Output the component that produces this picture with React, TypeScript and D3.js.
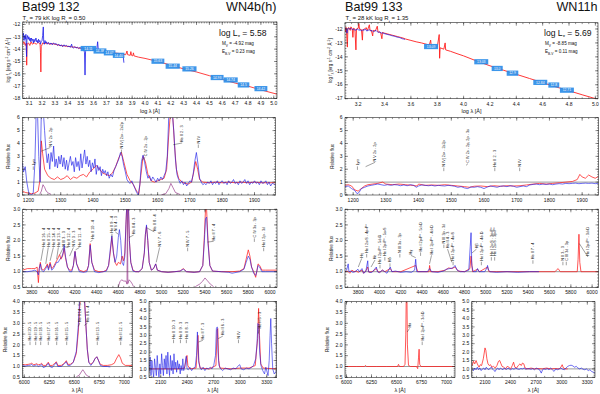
import React from "react";
import * as d3 from "d3";

type P = [number, number][];
type Lab = [number, number, string, number?, number?];
type Box = [number, number, number, string];

const FONT = "'Liberation Sans', Arial, Helvetica, sans-serif";
const RED = "#ff1f1f";
const BLUE = "#1c1ce8";
const RESID = "#8a1f7a";
const PHOT = "#2b8de8";

// ---------------- Bat99 132 -----------------
const sed132Model: P = [[3.050,-13.6],[3.060,-13.4],[3.070,-13.7],[3.078,-13.5],[3.081,-15.3],[3.084,-13.6],[3.095,-13.5],[3.105,-13.7],[3.115,-13.4],[3.125,-13.6],[3.140,-13.5],[3.155,-13.6],[3.170,-13.45],[3.185,-13.6],[3.188,-14.3],[3.191,-15.85],[3.194,-13.8],[3.205,-13.5],[3.220,-13.55],[3.240,-13.5],[3.260,-13.6],[3.280,-13.55],[3.300,-13.6],[3.340,-13.7],[3.380,-13.75],[3.420,-13.8],[3.460,-13.85],[3.500,-13.95],[3.550,-14.0],[3.600,-14.05],[3.650,-14.15],[3.700,-14.2],[3.750,-14.3],[3.800,-14.35],[3.850,-14.45],[3.860,-14.15],[3.865,-14.45],[3.885,-14.5],[3.890,-14.2],[3.895,-14.5],[3.905,-14.55],[3.910,-14.3],[3.915,-14.55],[3.950,-14.65],[4.000,-14.75],[4.100,-15.0],[4.200,-15.3],[4.300,-15.6],[4.400,-15.85],[4.500,-16.15],[4.600,-16.45],[4.700,-16.75],[4.800,-17.0],[4.900,-17.3],[5.025,-17.65]];
const sed132Obs: P = [[3.050,-13.0],[3.055,-12.7],[3.060,-13.3],[3.065,-12.9],[3.070,-13.2],[3.075,-12.8],[3.080,-14.6],[3.083,-13.1],[3.088,-12.9],[3.093,-13.2],[3.098,-13.0],[3.103,-13.3],[3.108,-13.1],[3.113,-13.4],[3.118,-13.1],[3.123,-13.3],[3.128,-13.2],[3.133,-13.5],[3.138,-13.2],[3.143,-13.4],[3.148,-13.3],[3.153,-13.1],[3.158,-13.4],[3.163,-13.3],[3.168,-13.5],[3.173,-13.2],[3.178,-13.4],[3.183,-13.3],[3.188,-13.6],[3.193,-13.4],[3.200,-13.3],[3.205,-12.9],[3.210,-12.2],[3.213,-13.4],[3.218,-13.6],[3.223,-13.3],[3.228,-13.5],[3.233,-13.4],[3.240,-13.6],[3.250,-13.45],[3.260,-13.6],[3.270,-13.5],[3.280,-13.65],[3.290,-13.5],[3.300,-13.6],[3.310,-13.55],[3.320,-13.7],[3.330,-13.6],[3.340,-13.75],[3.350,-13.65],[3.360,-13.8],[3.370,-13.65],[3.380,-13.75],[3.390,-13.7],[3.400,-13.8],[3.410,-13.75],[3.420,-13.85],[3.430,-13.6],[3.435,-13.85],[3.445,-13.9],[3.455,-13.8],[3.465,-13.9],[3.475,-13.85],[3.485,-13.95],[3.495,-13.85],[3.505,-13.95],[3.515,-13.9],[3.525,-14.0],[3.530,-14.3],[3.534,-16.1],[3.538,-14.2],[3.545,-13.95],[3.555,-14.05],[3.565,-14.0],[3.575,-14.1],[3.585,-14.05],[3.595,-14.1],[3.605,-14.0],[3.615,-14.15],[3.625,-14.05],[3.632,-13.4],[3.638,-14.15],[3.648,-14.1],[3.658,-14.2],[3.668,-14.15],[3.678,-14.25],[3.688,-14.2],[3.698,-14.3],[3.708,-14.25],[3.718,-14.35],[3.728,-14.3],[3.738,-14.35],[3.748,-14.4],[3.758,-14.35],[3.768,-14.45],[3.778,-14.4],[3.788,-14.45],[3.798,-14.4],[3.808,-14.5],[3.818,-14.45],[3.825,-14.55],[3.830,-14.5],[3.836,-15.1]];
const sed132Phot: Box[] = [[3.50,3.62,-13.95,"14.11"],[3.60,3.70,-14.15,"14.38"],[3.68,3.77,-14.3,"14.05"],[3.75,3.84,-14.5,"14.40"],[4.05,4.15,-14.98,"15.63"],[4.16,4.27,-15.38,"15.44"],[4.29,4.40,-15.6,"15.26"],[4.51,4.61,-16.3,"14.93"],[4.61,4.72,-16.5,"14.74"],[4.72,4.81,-16.9,"14.5"],[4.85,4.95,-17.2,"14.42"]];

const uv132Model: P = [[1181,0.3],[1190,0.2],[1200,0.15],[1210,0.1],[1220,0.15],[1230,0.3],[1236,1.2],[1240,4.2],[1244,3.2],[1250,2.0],[1260,1.5],[1270,1.3],[1280,1.2],[1290,1.4],[1300,1.2],[1310,1.3],[1320,1.5],[1330,1.2],[1340,1.4],[1350,1.3],[1360,1.5],[1370,1.6],[1380,1.4],[1390,1.8],[1400,2.0],[1410,2.3],[1420,2.0],[1430,1.7],[1440,1.6],[1450,1.5],[1460,1.7],[1470,2.2],[1480,2.9],[1488,3.3],[1495,2.6],[1505,1.6],[1515,1.1],[1525,0.8],[1535,0.3],[1542,0.1],[1548,1.5],[1555,3.0],[1562,2.6],[1570,1.6],[1580,1.1],[1590,1.0],[1600,1.1],[1610,1.2],[1620,1.3],[1628,2.0],[1634,4.5],[1640,6.5],[1646,6.5],[1652,4.0],[1658,2.0],[1665,1.3],[1675,1.0],[1685,0.9],[1695,0.85],[1705,1.0],[1712,1.8],[1718,2.6],[1724,2.0],[1730,1.2],[1740,1.0],[1760,0.95],[1780,1.0],[1800,0.95],[1820,1.0],[1840,0.95],[1860,1.0],[1880,0.95],[1900,1.0],[1920,0.95],[1940,0.95],[1965,0.95]];
const uv132Obs: P = [[1181,2.5],[1185,1.8],[1190,2.2],[1195,1.0],[1200,0.3],[1205,0.0],[1210,0.0],[1215,0.2],[1220,2.5],[1224,6.5],[1228,6.5],[1232,3.0],[1236,1.0],[1238,4.0],[1240,6.5],[1246,6.5],[1250,5.0],[1254,3.5],[1258,2.5],[1262,3.2],[1266,2.0],[1270,3.3],[1274,2.6],[1278,3.8],[1282,2.2],[1286,2.8],[1290,2.1],[1294,3.0],[1298,2.4],[1302,3.1],[1306,2.2],[1310,2.9],[1314,2.0],[1318,2.7],[1322,1.9],[1326,2.5],[1330,3.0],[1334,2.3],[1338,2.6],[1342,1.8],[1346,2.9],[1350,2.2],[1354,2.6],[1358,1.9],[1362,3.2],[1366,2.1],[1370,2.8],[1374,3.5],[1378,2.4],[1382,3.0],[1386,2.2],[1390,2.7],[1394,1.8],[1398,2.5],[1402,2.1],[1406,2.8],[1410,1.6],[1414,2.3],[1418,1.9],[1422,2.2],[1426,1.5],[1430,2.0],[1434,1.7],[1438,1.9],[1442,1.5],[1446,1.8],[1450,1.3],[1455,1.6],[1460,1.4],[1465,1.9],[1470,2.2],[1475,2.5],[1480,2.8],[1485,3.3],[1490,3.0],[1495,2.3],[1500,1.8],[1505,1.2],[1510,1.0],[1515,0.9],[1520,1.1],[1525,0.8],[1530,0.5],[1535,0.2],[1540,0.0],[1545,0.8],[1550,2.6],[1555,3.1],[1560,2.5],[1565,1.8],[1570,1.3],[1575,1.5],[1580,1.1],[1585,1.4],[1590,1.2],[1595,1.0],[1600,1.3],[1605,1.1],[1610,1.4],[1615,1.2],[1620,1.5],[1625,1.8],[1630,3.0],[1635,6.5],[1645,6.5],[1650,5.0],[1655,2.8],[1660,1.6],[1665,1.2],[1670,0.9],[1675,1.1],[1680,0.8],[1685,1.0],[1690,0.7],[1695,0.9],[1700,1.1],[1705,1.0],[1710,1.6],[1715,2.6],[1720,3.3],[1725,2.4],[1730,1.3],[1735,1.0],[1740,0.8],[1745,0.9],[1750,0.8],[1755,1.0],[1760,0.9],[1765,1.1],[1770,0.8],[1775,1.0],[1780,0.9],[1785,1.1],[1790,0.8],[1795,1.0],[1800,1.1],[1805,0.9],[1810,1.0],[1815,0.8],[1820,1.1],[1825,0.9],[1830,1.0],[1835,1.2],[1840,0.9],[1845,1.0],[1850,0.8],[1855,1.1],[1860,0.9],[1865,1.0],[1870,1.2],[1875,0.9],[1880,1.1],[1885,0.8],[1890,1.0],[1895,0.9],[1900,1.1],[1905,0.9],[1910,1.0],[1915,0.8],[1920,1.1],[1925,0.9],[1930,0.95],[1935,1.1],[1940,0.8],[1945,1.0],[1950,0.7],[1955,0.9],[1965,0.8]];
const uv132ResidA: P = [[1235,0.05],[1240,0.3],[1245,0.8],[1250,0.6],[1255,0.3],[1262,0.15],[1270,0.05]];
const uv132ResidB: P = [[1612,0.02],[1625,0.1],[1635,0.5],[1641,0.9],[1647,0.6],[1655,0.2],[1670,0.03]];
const uv132Labels: Lab[] = [[1215,2.3,"Lyα"],[1268,3.75,"N V 2s - 2p",1240,3.4],[1488,3.6,"N IV] 2s² - 2s2p"],[1562,3.0,"C IV 2s - 2p",1552,2.7],[1676,4.1,"He II 2 - 3",1648,3.9],[1726,4.0,"N IV"]];

const opt132Model: P = [[3717,1.05],[3760,1.1],[3800,1.1],[3830,1.1],[3850,1.15],[3862,0.65],[3870,1.1],[3880,1.3],[3890,1.1],[3910,1.05],[3930,1.15],[3945,1.25],[3955,1.1],[3970,1.3],[3985,1.1],[4000,1.15],[4015,1.25],[4030,1.35],[4045,1.45],[4058,1.55],[4070,1.4],[4085,1.5],[4100,1.75],[4112,1.45],[4130,1.15],[4150,1.05],[4170,1.05],[4185,1.2],[4200,1.65],[4215,1.25],[4240,1.05],[4280,1.0],[4310,1.05],[4325,1.2],[4340,1.9],[4355,1.3],[4380,1.05],[4420,1.0],[4460,1.0],[4490,1.05],[4510,1.2],[4525,1.6],[4540,2.1],[4555,1.6],[4570,1.3],[4585,1.2],[4600,1.3],[4620,1.25],[4635,1.5],[4648,1.35],[4660,1.6],[4670,2.5],[4680,3.3],[4692,3.3],[4702,2.0],[4715,1.3],[4735,1.05],[4760,1.0],[4790,1.0],[4820,1.1],[4840,1.6],[4850,2.2],[4860,2.45],[4872,2.0],[4885,1.3],[4905,1.05],[4925,1.1],[4945,1.25],[4960,1.05],[5000,1.0],[5060,0.98],[5120,1.0],[5170,1.02],[5200,1.1],[5230,1.0],[5300,0.98],[5350,1.0],[5380,1.2],[5395,2.2],[5405,3.0],[5415,3.0],[5428,2.0],[5445,1.2],[5470,1.02],[5550,1.0],[5650,1.0],[5720,1.02],[5760,1.1],[5780,1.4],[5800,1.7],[5815,1.5],[5830,1.15],[5850,1.0],[5868,0.82],[5878,1.0],[5890,1.25],[5905,1.2],[5925,1.05],[5960,1.05],[6000,1.05],[6065,1.05]];
const opt132Obs: P = [[3717,1.0],[3760,1.0],[3800,1.02],[3830,1.05],[3850,1.0],[3862,0.9],[3870,1.1],[3880,1.25],[3890,1.05],[3910,1.0],[3930,1.1],[3945,1.2],[3955,1.05],[3970,1.25],[3985,1.05],[4000,1.1],[4015,1.2],[4030,1.3],[4045,1.3],[4060,1.4],[4075,1.45],[4090,1.6],[4100,1.85],[4112,1.5],[4130,1.15],[4150,1.0],[4170,1.0],[4185,1.2],[4200,1.65],[4215,1.25],[4240,1.0],[4280,0.98],[4310,1.0],[4325,1.2],[4340,1.85],[4355,1.3],[4380,1.0],[4420,0.97],[4460,1.0],[4490,1.02],[4510,1.2],[4525,1.7],[4540,2.15],[4555,1.6],[4570,1.3],[4585,1.5],[4600,2.1],[4610,2.35],[4622,2.0],[4635,1.3],[4648,1.2],[4660,1.5],[4670,2.5],[4680,3.3],[4692,3.3],[4702,2.0],[4715,1.3],[4735,1.02],[4760,1.0],[4790,1.0],[4820,1.1],[4840,1.6],[4850,2.2],[4860,2.5],[4872,2.0],[4885,1.3],[4905,1.05],[4925,1.1],[4945,1.25],[4960,1.05],[5000,1.0],[5060,0.98],[5120,1.0],[5170,1.02],[5200,1.08],[5230,1.0],[5300,0.98],[5350,1.0],[5380,1.2],[5395,2.0],[5405,2.7],[5415,2.75],[5428,1.9],[5445,1.2],[5470,1.02],[5550,1.0],[5620,0.98],[5650,0.95],[5720,1.0],[5760,1.08],[5780,1.3],[5800,1.5],[5815,1.4],[5830,1.15],[5850,0.95],[5868,0.88],[5878,1.0],[5890,1.2],[5905,1.15],[5925,1.0],[5960,1.0],[6000,1.0],[6065,1.0]];
const opt132ResidA: P = [[4600,0.52],[4615,0.68],[4630,0.74],[4650,0.7],[4670,0.7],[4680,0.6],[4684,3.2],[4688,0.62],[4700,0.74],[4715,0.68],[4730,0.6],[4740,0.52]];
const opt132ResidB: P = [[5310,0.52],[5350,0.6],[5380,0.7],[5400,0.8],[5420,0.72],[5450,0.6],[5480,0.52]];
const opt132Labels: Lab[] = [[3907,1.8,"He II 16 - 4",3885,1.35],[3953,1.8,"He II 15 - 4",3930,1.25],[4000,1.8,"He II 14 - 4",3970,1.35],[4046,1.8,"He II 13 - 4",4030,1.4],[4092,1.8,"N III 3 - 3",4060,1.55],[4139,1.8,"He II 12 - 4",4102,1.8],[4185,1.8,"N IV 3 - 3",4150,1.5],[4240,1.8,"He II 11 - 4",4205,1.7],[4363,2.05,"He II 10 - 4",4342,1.95],[4541,2.25,"He II 9 - 4"],[4572,2.3,"N V 4 - 3",4600,2.2],[4741,2.2,"He II 4 - 3",4700,2.1],[4932,2.3,"He II 8 - 4",4866,2.4],[4981,1.8,"N V 7 - 6",4950,1.3],[5240,1.8,"N IV 7 - 5"],[5480,2.0,"He II 7 - 4",5425,1.95],[5856,2.1,"C IV 3s - 3p"],[5942,1.8,"He I 2p - 3d"]];

const ha132Model: P = [[5980,1.1],[6010,1.08],[6040,1.1],[6060,1.12],[6074,1.16],[6090,1.08],[6110,1.1],[6120,1.13],[6140,1.08],[6160,1.1],[6172,1.15],[6190,1.05],[6215,1.05],[6240,1.2],[6255,1.05],[6280,1.05],[6305,1.15],[6320,1.22],[6335,1.05],[6370,1.05],[6400,1.15],[6420,1.27],[6435,1.1],[6460,1.1],[6490,1.2],[6520,1.6],[6540,2.6],[6555,3.9],[6575,4.3],[6600,4.3],[6615,3.0],[6630,1.8],[6645,1.2],[6665,1.1],[6690,1.2],[6705,1.35],[6725,1.45],[6740,1.3],[6760,1.1],[6790,1.05],[6830,1.05],[6870,1.08],[6900,1.15],[6920,1.35],[6945,1.55],[6962,1.4],[6980,1.15],[7010,1.05],[7080,1.05]];
const ha132Obs: P = [[5980,1.05],[6010,1.02],[6040,1.05],[6060,1.06],[6074,1.1],[6090,1.02],[6110,1.05],[6120,1.08],[6140,1.0],[6160,1.05],[6172,1.1],[6190,0.95],[6215,1.0],[6240,1.15],[6255,1.0],[6280,0.95],[6305,1.1],[6320,1.18],[6335,1.0],[6370,1.0],[6400,1.12],[6420,1.22],[6435,1.05],[6460,1.05],[6490,1.2],[6520,1.7],[6540,2.9],[6555,4.3],[6600,4.3],[6615,3.0],[6630,1.8],[6645,1.2],[6665,1.05],[6690,1.2],[6705,1.35],[6725,1.45],[6740,1.3],[6760,1.05],[6790,1.0],[6830,1.0],[6860,0.98]];
const ha132Resid: P = [[6520,0.52],[6550,0.6],[6570,0.75],[6585,0.85],[6600,0.75],[6620,0.6],[6650,0.52]];
const ha132Labels: Lab[] = [[6057,2.2,"He II 20 - 5"],[6114,2.2,"He II 19 - 5"],[6164,2.2,"He II 18 - 5"],[6240,2.2,"He II 17 - 5"],[6324,2.2,"He II 16 - 5"],[6424,2.2,"He II 15 - 5"],[6555,3.05,"He II 14 - 5",6540,2.85],[6632,3.05,"He II 6 - 4",6600,2.9],[6730,2.2,"He II 13 - 5"],[6964,2.2,"He II 12 - 5"]];

const uv2132Model: P = [[1967,1.0],[2100,1.0],[2200,1.0],[2300,1.0],[2370,1.05],[2388,1.6],[2397,1.8],[2407,1.2],[2430,1.0],[2500,1.05],[2512,2.0],[2521,3.0],[2531,1.5],[2545,1.05],[2650,1.0],[2725,1.2],[2738,3.3],[2746,3.4],[2756,1.5],[2770,1.05],[2900,1.0],[3000,1.05],[3100,1.05],[3170,1.2],[3197,2.8],[3208,4.6],[3218,3.0],[3232,1.3],[3260,1.05],[3413,1.0]];
const uv2132Obs: P = [[1967,0.8],[1980,1.7],[1990,0.6],[2000,1.5],[2010,0.9],[2020,0.5],[2030,1.6],[2040,1.1],[2050,0.6],[2060,1.8],[2070,1.0],[2080,0.5],[2090,1.3],[2100,0.7],[2110,1.9],[2120,1.2],[2130,0.6],[2140,1.6],[2150,1.0],[2160,1.8],[2170,0.7],[2180,2.0],[2190,1.1],[2200,0.6],[2210,1.8],[2220,0.9],[2230,1.5],[2240,0.7],[2250,1.9],[2260,1.0],[2270,1.4],[2280,0.8],[2290,1.5],[2300,1.0],[2310,1.3],[2320,0.7],[2330,1.2],[2340,0.9],[2350,1.6],[2360,0.9],[2370,1.1],[2388,1.75],[2398,1.0],[2412,0.95],[2430,1.1],[2450,0.9],[2470,1.05],[2490,1.1],[2505,1.8],[2515,3.2],[2522,2.5],[2530,1.4],[2545,1.1],[2560,0.95],[2580,1.1],[2600,0.9],[2620,1.05],[2640,1.0],[2660,1.1],[2680,1.0],[2700,1.2],[2720,1.8],[2730,3.4],[2740,3.5],[2748,2.0],[2760,1.2],[2780,1.0],[2800,0.9],[2830,1.05],[2860,1.0],[2890,0.95],[2920,1.05],[2950,1.0],[2980,1.2],[2995,1.25],[3010,1.0],[3040,0.95],[3070,1.05],[3100,1.0],[3130,1.1],[3150,1.2],[3175,1.6],[3190,2.5],[3200,3.7],[3210,3.6],[3220,2.0],[3235,1.2],[3255,0.9],[3275,0.7],[3290,1.1],[3305,0.8],[3315,0.6],[3328,1.5],[3338,3.0],[3346,4.0],[3355,2.5],[3368,1.0],[3385,0.7],[3413,0.9]];
const uv2132Labels: Lab[] = [[2245,2.8,"He II 10 - 3"],[2323,2.8,"He II 9 - 3"],[2390,2.8,"He II 8 - 3"],[2577,2.75,"He II 7 - 3",2528,2.6],[2803,3.0,"He II 6 - 3",2750,2.8],[2980,2.8,"N IV"],[3215,3.4,"He II 5 - 3",3205,3.1]];

// ---------------- Bat99 133 -----------------
const sed133Model: P = [[3.100,-11.85],[3.105,-12.2],[3.110,-11.9],[3.118,-13.3],[3.122,-11.95],[3.130,-11.9],[3.140,-12.1],[3.145,-11.85],[3.155,-12.0],[3.160,-12.6],[3.164,-11.95],[3.175,-12.0],[3.183,-13.5],[3.187,-12.0],[3.200,-11.95],[3.205,-11.6],[3.210,-12.0],[3.225,-12.05],[3.232,-12.8],[3.236,-12.05],[3.250,-12.0],[3.260,-11.9],[3.270,-12.1],[3.285,-11.7],[3.290,-12.1],[3.300,-12.1],[3.310,-12.5],[3.314,-12.1],[3.330,-12.15],[3.345,-11.8],[3.350,-12.2],[3.370,-12.25],[3.380,-12.7],[3.384,-12.25],[3.400,-12.3],[3.420,-12.35],[3.440,-12.4],[3.460,-12.45],[3.480,-12.5],[3.500,-12.55],[3.520,-12.6],[3.540,-12.65],[3.560,-12.72],[3.600,-12.82],[3.640,-12.92],[3.680,-13.0],[3.700,-13.05],[3.740,-13.15],[3.750,-12.8],[3.754,-13.17],[3.790,-13.28],[3.800,-13.3],[3.815,-12.4],[3.818,-14.1],[3.822,-13.35],[3.850,-13.45],[3.860,-13.0],[3.864,-13.5],[3.900,-13.6],[3.950,-13.77],[4.000,-13.93],[4.100,-14.3],[4.200,-14.64],[4.300,-14.95],[4.400,-15.25],[4.500,-15.55],[4.600,-15.85],[4.700,-16.15],[4.800,-16.43],[4.900,-16.72],[5.020,-17.05]];
const sed133Obs: P = [[3.100,-11.9],[3.105,-11.95],[3.110,-12.0],[3.115,-12.3],[3.120,-12.05],[3.125,-11.95],[3.135,-12.0],[3.145,-11.95],[3.155,-12.05],[3.165,-12.0],[3.175,-12.1],[3.185,-12.05],[3.195,-12.0],[3.205,-12.1],[3.215,-12.05],[3.225,-12.15],[3.235,-12.05],[3.245,-12.1],[3.255,-12.0],[3.265,-12.15],[3.275,-12.1],[3.285,-12.05],[3.295,-12.15],[3.305,-12.1],[3.315,-12.2],[3.325,-12.15],[3.335,-12.1],[3.345,-12.2],[3.355,-12.25],[3.365,-12.2],[3.375,-12.3],[3.385,-12.28],[3.395,-12.32],[3.405,-12.35],[3.415,-12.38],[3.425,-12.4],[3.435,-12.42],[3.445,-12.45],[3.455,-12.48],[3.465,-12.5],[3.475,-12.52],[3.485,-12.55],[3.495,-12.58],[3.505,-12.6],[3.515,-12.62],[3.525,-12.66],[3.535,-12.7],[3.545,-12.72],[3.555,-12.75]];
const sed133Phot: Box[] = [[3.70,3.806,-13.26,"13.09"],[4.081,4.187,-14.35,"13.03"],[4.213,4.297,-14.83,"13.0"],[4.327,4.415,-15.17,"12.9"],[4.529,4.635,-15.83,"12.84"],[4.643,4.726,-16.02,"12.8"],[4.731,4.837,-16.39,"12.71"]];

const uv133Model: P = [[1175,0.75],[1185,0.8],[1195,0.7],[1205,0.4],[1215,0.3],[1225,0.5],[1235,0.7],[1245,0.8],[1260,0.85],[1275,0.9],[1290,1.0],[1300,0.85],[1320,0.8],[1340,0.85],[1360,0.8],[1380,0.75],[1395,0.7],[1400,0.85],[1420,0.75],[1440,0.78],[1460,0.75],[1480,0.8],[1500,0.75],[1520,0.7],[1540,0.65],[1555,0.6],[1570,0.68],[1590,0.7],[1610,0.65],[1630,0.72],[1650,0.68],[1670,0.72],[1690,0.7],[1710,0.72],[1730,0.78],[1750,0.85],[1770,0.9],[1790,0.85],[1810,0.9],[1830,0.95],[1850,1.0],[1870,1.05],[1885,1.2],[1893,1.6],[1900,1.4],[1910,1.3],[1920,1.55],[1930,1.4],[1940,1.3],[1950,1.45]];
const uv133Obs: P = [[1175,0.65],[1185,0.7],[1195,0.5],[1205,0.35],[1212,0.1],[1218,0.2],[1225,0.5],[1235,0.6],[1245,0.7],[1255,0.75],[1265,0.8],[1275,0.85],[1285,0.8],[1295,0.75],[1305,0.8],[1315,0.75],[1325,0.8],[1335,0.78],[1345,0.72],[1355,0.78],[1365,0.72],[1375,0.8],[1385,0.75],[1393,0.6],[1400,0.7],[1410,0.78],[1420,0.75],[1430,0.72],[1440,0.75],[1450,0.7],[1460,0.75],[1470,0.72],[1480,0.7],[1490,0.75],[1500,0.72],[1510,0.68],[1520,0.6],[1530,0.65],[1540,0.55],[1550,0.5],[1560,0.62],[1570,0.6],[1580,0.65],[1590,0.6],[1600,0.5],[1610,0.62],[1620,0.7],[1630,0.65],[1640,0.6],[1650,0.68],[1660,0.7],[1670,0.65],[1680,0.72],[1690,0.68],[1700,0.6],[1710,0.65],[1720,0.7],[1730,0.65],[1740,0.78],[1750,0.82],[1760,0.85],[1770,0.8],[1780,0.85],[1790,0.82],[1800,0.85],[1810,0.8],[1820,0.85],[1830,0.88],[1840,0.85],[1850,0.9],[1860,0.88],[1870,0.9],[1880,0.92],[1890,0.88],[1900,0.9],[1910,0.92],[1920,0.9],[1930,0.92],[1940,0.88],[1950,0.9]];
const uv133Labels: Lab[] = [[1213,2.3,"Lyα"],[1267,2.6,"N V 2s - 2p",1238,2.2],[1477,2.2,"N IV] 2s² - 2s2p"],[1551,2.5,"C IV 2s - 2p, 2p - 3s",1545,2.3],[1633,2.2,"He II 2 - 3"],[1709,2.2,"N IV"]];

const opt133Model: P = [[3675,1.0],[3700,1.02],[3720,0.95],[3740,1.05],[3760,1.0],[3780,1.02],[3800,0.98],[3835,1.05],[3850,0.95],[3870,1.02],[3889,1.15],[3900,0.98],[3930,1.0],[3970,1.1],[3990,0.98],[4010,1.0],[4026,1.05],[4050,1.0],[4101,1.1],[4120,1.0],[4200,1.0],[4340,1.2],[4360,1.0],[4400,1.0],[4465,1.0],[4471,1.2],[4480,1.0],[4550,1.0],[4620,1.05],[4650,1.12],[4680,1.1],[4710,1.15],[4740,1.02],[4800,1.0],[4850,1.1],[4861,1.5],[4875,1.0],[4922,1.08],[4940,1.0],[5016,1.15],[5030,1.0],[5100,1.0],[5411,1.0],[5650,1.0],[5680,1.1],[5700,1.0],[5860,1.0],[5868,1.4],[5876,2.2],[5884,1.3],[5895,1.0],[6060,1.0]];
const opt133Obs: P = [[3675,1.0],[3690,1.05],[3705,1.25],[3712,1.0],[3730,1.02],[3750,0.98],[3770,1.0],[3797,1.08],[3810,1.0],[3835,1.1],[3850,0.95],[3870,1.0],[3889,1.35],[3895,1.0],[3920,0.97],[3935,1.0],[3970,1.15],[3980,1.0],[4000,0.97],[4026,1.05],[4050,1.0],[4070,0.95],[4101,1.15],[4115,1.0],[4150,1.02],[4200,0.98],[4250,1.0],[4300,0.98],[4330,1.05],[4340,1.4],[4350,1.0],[4400,1.0],[4450,1.0],[4471,1.1],[4490,1.0],[4550,0.98],[4600,1.02],[4630,1.08],[4660,1.1],[4690,1.12],[4710,1.2],[4730,1.05],[4760,1.0],[4800,1.0],[4840,1.05],[4853,1.8],[4861,2.25],[4868,1.2],[4880,1.0],[4910,1.0],[4922,1.1],[4935,1.0],[4990,1.0],[5010,1.12],[5016,1.2],[5025,1.05],[5040,1.0],[5100,0.98],[5200,1.0],[5300,0.98],[5411,1.0],[5500,1.0]];
const opt133Labels: Lab[] = [[3832,1.45,"Hη",3800,1.15],[3879,1.6,"He I 2s³S - 4p³P°"],[3957,1.4,"Hε",3920,1.15],[4004,1.25,"He I 2p³P° - 5d³D"],[4050,1.5,"He I 2p³P° - 5s³S"],[4098,1.3,"Hδ"],[4191,1.6,"N III 3s - 3p"],[4295,1.55,"Hγ",4340,1.45],[4386,1.65,"He I 2p¹P° - 5d¹D"],[4489,1.55,"He I 2p³P° - 4d³D",4470,1.25],[4605,1.9,"N III 3p - 3d"],[4640,1.75,"He II 4 - 3",4680,1.3],[4692,1.35,"He I 2p³P° - 4s³S"],[4912,1.75,"Hβ",4870,1.6],[4958,1.35,"He I 2p¹P° - 4d¹D"],[5052,1.5,"He I 2s³S - 3p³P°"],[5083,1.5,"He I 2s¹S - 3p¹P°"],[5443,1.4,"He II 7 - 4"],[5725,1.35,"N II 3 - 3"],[5757,1.35,"C III 3d - 3p"],[5960,1.5,"He I 2p³P° - 3d³D",5880,1.9]];

const ha133Model: P = [[5985,1.0],[6100,1.0],[6180,1.0],[6190,1.05],[6200,1.0],[6300,1.0],[6400,1.0],[6510,1.0],[6520,1.1],[6530,1.0],[6570,1.0],[6585,1.1],[6593,2.5],[6598,4.5],[6604,4.5],[6609,2.0],[6620,1.05],[6640,1.0],[6700,1.0],[6712,0.9],[6720,1.4],[6726,1.8],[6732,1.1],[6745,1.0],[7085,1.0]];
const ha133Labels: Lab[] = [[6630,2.8,"Hα",6608,2.6],[6757,2.2,"He I 2p¹P° - 3d¹D"]];

const uv2133Model: P = [[1950,1.2],[1965,1.45],[1980,1.3],[1995,1.5],[2010,1.3],[2030,1.1],[2045,1.25],[2060,1.2],[2080,1.6],[2100,2.25],[2110,2.1],[2122,1.6],[2135,1.3],[2150,1.2],[2165,1.25],[2180,1.1],[2200,1.15],[2220,1.05],[2240,1.2],[2258,1.45],[2272,1.5],[2288,1.3],[2300,1.15],[2320,1.1],[2340,1.0],[2360,1.15],[2380,1.1],[2400,1.0],[2420,1.2],[2435,1.4],[2450,1.1],[2470,1.05],[2490,1.2],[2510,1.3],[2525,1.2],[2540,1.35],[2555,1.3],[2570,1.05],[2600,1.0],[2640,1.05],[2680,1.0],[2720,1.02],[2770,1.0],[2820,1.05],[2870,1.0],[2920,1.02],[2970,1.0],[2990,1.1],[3005,1.25],[3020,1.05],[3045,1.0],[3070,1.0]];
const uv2133Obs: P = [[1950,1.0],[1965,0.9],[1980,1.05],[1995,0.95],[2010,1.1],[2025,0.95],[2040,1.05],[2055,0.9],[2070,1.0],[2085,1.05],[2100,0.95],[2115,1.1],[2130,1.0],[2145,0.95],[2160,1.05],[2175,1.1],[2190,0.98],[2205,0.9],[2220,0.85],[2235,1.0],[2250,1.05],[2265,0.95],[2280,1.05],[2295,1.0],[2310,0.95],[2325,1.05],[2340,1.0],[2355,0.97],[2370,1.05],[2385,1.0],[2400,0.95],[2420,1.02],[2440,0.98],[2460,1.05],[2480,1.0],[2500,0.97],[2520,1.02],[2540,1.0],[2560,1.05],[2580,0.97],[2600,1.02],[2620,1.0],[2640,0.98],[2660,1.02],[2680,0.95],[2700,1.05],[2720,1.0],[2740,0.95],[2760,0.75],[2775,0.95],[2790,1.0],[2810,0.97],[2830,1.02],[2850,0.95],[2870,1.05],[2890,0.95],[2910,0.85],[2930,1.0],[2950,0.95],[2970,1.0],[2990,1.05],[3010,0.98],[3030,0.95],[3050,1.05],[3070,1.15],[3090,1.2],[3110,1.22],[3130,1.18],[3150,1.1],[3170,1.15],[3190,1.05],[3210,1.0],[3230,1.05],[3250,0.98],[3270,0.95],[3290,1.0],[3310,0.9],[3330,0.95],[3350,0.85],[3370,0.8],[3390,0.75]];

// ticks
const sed132XTicks = [3.1,3.2,3.3,3.4,3.5,3.6,3.7,3.8,3.9,4.0,4.1,4.2,4.3,4.4,4.5,4.6,4.7,4.8,4.9,5.0];
const sed132YTicks = [-12,-13,-14,-15,-16,-17,-18];
const sed133XTicks = [3.2,3.4,3.6,3.8,4.0,4.2,4.4,4.6,4.8,5.0];
const sed133YTicks = [-12,-13,-14,-15,-16,-17];
const uvXTicks = [1200,1300,1400,1500,1600,1700,1800,1900];
const uvYTicks = [0,1,2,3,4,5,6];
const optXTicks = [3800,4000,4200,4400,4600,4800,5000,5200,5400,5600,5800,6000];
const optYTicks = [0.5,1.0,1.5,2.0,2.5,3.0];
const haXTicks = [6000,6250,6500,6750,7000];
const haYTicks = [0.5,1.0,1.5,2.0,2.5,3.0,3.5,4.0];
const uv2XTicks = [2100,2400,2700,3000,3300];
const uv2YTicks = [0.5,1.0,1.5,2.0,2.5,3.0,3.5,4.0,4.5,5.0];

interface Series { data: P; color: string; w?: number; op?: number }
interface PanelProps {
  id: string; f: [number, number, number, number];
  xd: [number, number]; yd: [number, number];
  xT: number[]; xm: number; yT: number[]; ym: number;
  xF: (v: number) => string; yF: (v: number) => string;
  series: Series[]; boxes?: Box[]; labels?: Lab[]; hline?: boolean;
  xLabel?: React.ReactNode; xLabelY?: number; yLabel?: React.ReactNode; yLabelX?: number;
  xTickDy?: number;
}

function minors(d: [number, number], step: number) {
  const out: number[] = [];
  const s = Math.ceil(d[0] / step - 1e-9);
  for (let i = s; i * step <= d[1] + 1e-9; i++) out.push(i * step);
  return out;
}

function Panel(p: PanelProps) {
  const [x0, x1, y0, y1] = p.f;
  const sx = d3.scaleLinear().domain(p.xd).range([x0, x1]);
  const sy = d3.scaleLinear().domain(p.yd).range([y1, y0]);
  const line = d3.line<[number, number]>().x(d => sx(d[0])).y(d => sy(d[1]));
  const xMin = minors(p.xd, p.xm);
  const yMin = minors(p.yd, p.ym);
  const tk = 0.5;
  const xTickDy = p.xTickDy ?? 6.8;
  return (
    <g>
      <defs>
        <clipPath id={p.id}><rect x={x0} y={y0} width={x1 - x0} height={y1 - y0} /></clipPath>
      </defs>
      <g clipPath={`url(#${p.id})`}>
        {p.hline && <line x1={x0} x2={x1} y1={sy(1)} y2={sy(1)} stroke="#555" strokeWidth={0.6} />}
        {p.series.map((s, i) => (
          <path key={i} d={line(s.data) || ""} fill="none" stroke={s.color} strokeWidth={s.w ?? 0.75} strokeOpacity={s.op ?? 1} strokeLinejoin="round" />
        ))}
        {(p.boxes || []).map((b, i) => {
          const bx = sx(b[0]), bw = sx(b[1]) - sx(b[0]), cy = sy(b[2]);
          return (
            <g key={i}>
              <rect x={bx} y={cy - 2.6} width={bw} height={5.2} fill={PHOT} fillOpacity={0.92} />
              <text x={bx + bw / 2} y={cy + 1.2} fontSize={3.4} fill="#fff" textAnchor="middle" fontFamily={FONT}>{b[3]}</text>
            </g>
          );
        })}
      </g>
      {(p.labels || []).map((l, i) => {
        const X = sx(l[0]), Y = sy(l[1]);
        return (
          <g key={i}>
            {l[3] !== undefined
              ? <path d={`M${sx(l[3] as number)},${sy(l[4] as number)} L${X},${Y + 0.8}`} stroke="#111" strokeWidth={0.4} fill="none" />
              : <line x1={X} x2={X} y1={Y + 1} y2={Y + 4.5} stroke="#111" strokeWidth={0.4} />}
            <text transform={`translate(${X + 1.3},${Y}) rotate(-90)`} fontSize={3.8} fontFamily={FONT} fill="#111">{l[2]}</text>
          </g>
        );
      })}
      <rect x={x0} y={y0} width={x1 - x0} height={y1 - y0} fill="none" stroke="#222" strokeWidth={0.6} />
      {xMin.map((v, i) => (
        <g key={"xm" + i}>
          <line x1={sx(v)} x2={sx(v)} y1={y1} y2={y1 - 1.4} stroke="#222" strokeWidth={tk} />
          <line x1={sx(v)} x2={sx(v)} y1={y0} y2={y0 + 1.4} stroke="#222" strokeWidth={tk} />
        </g>
      ))}
      {p.xT.map((v, i) => (
        <g key={"xt" + i}>
          <line x1={sx(v)} x2={sx(v)} y1={y1} y2={y1 - 3} stroke="#222" strokeWidth={tk} />
          <line x1={sx(v)} x2={sx(v)} y1={y0} y2={y0 + 3} stroke="#222" strokeWidth={tk} />
          <text x={sx(v)} y={y1 + xTickDy} fontSize={5} textAnchor="middle" fontFamily={FONT} fill="#111">{p.xF(v)}</text>
        </g>
      ))}
      {yMin.map((v, i) => (
        <g key={"ym" + i}>
          <line x1={x0} x2={x0 + 1.4} y1={sy(v)} y2={sy(v)} stroke="#222" strokeWidth={tk} />
          <line x1={x1} x2={x1 - 1.4} y1={sy(v)} y2={sy(v)} stroke="#222" strokeWidth={tk} />
        </g>
      ))}
      {p.yT.map((v, i) => (
        <g key={"yt" + i}>
          <line x1={x0} x2={x0 + 3} y1={sy(v)} y2={sy(v)} stroke="#222" strokeWidth={tk} />
          <line x1={x1} x2={x1 - 3} y1={sy(v)} y2={sy(v)} stroke="#222" strokeWidth={tk} />
          <text x={x0 - 2.5} y={sy(v) + 1.7} fontSize={5} textAnchor="end" fontFamily={FONT} fill="#111">{p.yF(v)}</text>
        </g>
      ))}
      {p.xLabel && <text x={(x0 + x1) / 2} y={p.xLabelY} fontSize={5.5} textAnchor="middle" fontFamily={FONT} fill="#111">{p.xLabel}</text>}
      {p.yLabel && <text transform={`translate(${p.yLabelX},${(y0 + y1) / 2}) rotate(-90)`} fontSize={4.6} textAnchor="middle" fontFamily={FONT} fill="#111">{p.yLabel}</text>}
    </g>
  );
}

const f1 = (v: number) => v.toFixed(1);
const f0 = (v: number) => String(v);

const Sub = ({ c }: { c: string }) => <tspan baselineShift="sub" fontSize="70%">{c}</tspan>;
const Sup = ({ c }: { c: string }) => <tspan baselineShift="super" fontSize="70%">{c}</tspan>;

function sedYLabel() {
  return <>log f<Sub c="λ" /> [erg s<Sup c="-1" /> cm<Sup c="-2" /> Å<Sup c="-1" />]</>;
}

function Star(props: { ox: number; name: string; type: string; sub: React.ReactNode; right: boolean }) {
  const { ox } = props;
  return (
    <g fontFamily={FONT} fill="#111">
      <text x={ox} y={11.2} fontSize={12.6}>{props.name}</text>
      <text x={props.right ? 597.5 : 276.5} y={11.2} fontSize={12.6} textAnchor="end">{props.type}</text>
      <text x={ox + 0.5} y={19.8} fontSize={6}>{props.sub}</text>
    </g>
  );
}

export default function App() {
  const relFlux = "Relative flux";
  return (
    <svg width={600} height={394} viewBox="0 0 600 394" style={{ position: "absolute", left: 0, top: 0, background: "#fff" }} fontFamily={FONT}>
      <rect width={600} height={394} fill="#fff" />
      {/* ---------- Bat99 132 ---------- */}
      <Star ox={22} name="Bat99 132" type="WN4b(h)" right={false}
        sub={<>T<Sub c="*" /> =  79 kK   log R<Sub c="t" /> = 0.50</>} />
      <Panel id="c1" f={[22.7, 277, 22, 98.5]} xd={[3.05, 5.025]} yd={[-18, -11.8]} xT={sed132XTicks} xm={0.02} yT={sed132YTicks} ym={0.2}
        xF={f1} yF={f0} series={[{ data: sed132Model, color: RED, w: 0.85 }, { data: sed132Obs, color: BLUE, w: 0.95, op: 0.85 }]} boxes={sed132Phot}
        xLabel={<>log λ [Å]</>} xLabelY={112.5} yLabel={sedYLabel()} yLabelX={10} />
      <g fontFamily={FONT} fill="#111">
        <text x={219} y={36} fontSize={8.6}>log L<Sub c="*" /> = 5.58</text>
        <text x={222} y={45} fontSize={4.6}>M<Sub c="V" /> = -4.92 mag</text>
        <text x={222} y={53} fontSize={4.6}>E<Sub c="B-V" /> = 0.23 mag</text>
      </g>
      <Panel id="c2" f={[22.3, 275.5, 117.7, 195]} xd={[1181, 1965]} yd={[0, 6]} xT={uvXTicks} xm={20} yT={uvYTicks} ym={0.2}
        xF={f0} yF={f0} hline series={[{ data: uv132Model, color: RED }, { data: uv132Obs, color: BLUE, op: 0.85 }, { data: uv132ResidA, color: RESID, w: 0.6 }, { data: uv132ResidB, color: RESID, w: 0.6 }]}
        labels={uv132Labels} yLabel={relFlux} yLabelX={10} />
      <Panel id="c3" f={[22.7, 277, 209.3, 287.3]} xd={[3717, 6065]} yd={[0.5, 3.0]} xT={optXTicks} xm={50} yT={optYTicks} ym={0.1}
        xF={f0} yF={f1} hline series={[{ data: opt132Model, color: RED }, { data: opt132Obs, color: BLUE, op: 0.8 }, { data: opt132ResidA, color: RESID, w: 0.6 }, { data: opt132ResidB, color: RESID, w: 0.6 }]}
        labels={opt132Labels} yLabel={relFlux} yLabelX={10} />
      <Panel id="c4" f={[22.3, 132.3, 301.7, 377.3]} xd={[5980, 7080]} yd={[0.5, 4.0]} xT={haXTicks} xm={50} yT={haYTicks} ym={0.1}
        xF={f0} yF={f1} hline series={[{ data: ha132Model, color: RED }, { data: ha132Obs, color: BLUE, op: 0.8 }, { data: ha132Resid, color: RESID, w: 0.6 }]}
        labels={ha132Labels} yLabel={relFlux} yLabelX={6.5} xLabel={<>λ [Å]</>} xLabelY={391.5} />
      <Panel id="c5" f={[149, 276.7, 301.7, 377.3]} xd={[1967, 3413]} yd={[0.5, 5.0]} xT={uv2XTicks} xm={100} yT={uv2YTicks} ym={0.1}
        xF={f0} yF={f1} hline series={[{ data: uv2132Model, color: RED }, { data: uv2132Obs, color: BLUE, op: 0.8 }]}
        labels={uv2132Labels} xLabel={<>λ [Å]</>} xLabelY={391.5} />

      {/* ---------- Bat99 133 ---------- */}
      <Star ox={345} name="Bat99 133" type="WN11h" right={true}
        sub={<>T<Sub c="*" /> =  28 kK   log R<Sub c="t" /> = 1.35</>} />
      <Panel id="d1" f={[345, 598, 22.7, 98.7]} xd={[3.1, 5.02]} yd={[-17, -11.55]} xT={sed133XTicks} xm={0.05} yT={sed133YTicks} ym={0.2}
        xF={f1} yF={f0} series={[{ data: sed133Model, color: RED, w: 0.9 }, { data: sed133Obs, color: BLUE, w: 0.9, op: 0.8 }]} boxes={sed133Phot}
        xLabel={<>log λ [Å]</>} xLabelY={112.5} yLabel={sedYLabel()} yLabelX={332} />
      <g fontFamily={FONT} fill="#111">
        <text x={544} y={36} fontSize={8.6}>log L<Sub c="*" /> = 5.69</text>
        <text x={545} y={44.5} fontSize={4.6}>M<Sub c="V" /> = -8.85 mag</text>
        <text x={545} y={52.5} fontSize={4.6}>E<Sub c="B-V" /> = 0.11 mag</text>
      </g>
      <Panel id="d2" f={[345, 598.5, 117.7, 195]} xd={[1175, 1950]} yd={[0, 6]} xT={uvXTicks} xm={20} yT={uvYTicks} ym={0.2}
        xF={f0} yF={f0} hline series={[{ data: uv133Model, color: RED }, { data: uv133Obs, color: BLUE, op: 0.85 }]}
        labels={uv133Labels} yLabel={relFlux} yLabelX={334} />
      <Panel id="d3" f={[345, 598.5, 209.3, 287.3]} xd={[3675, 6060]} yd={[0.5, 3.0]} xT={optXTicks} xm={50} yT={optYTicks} ym={0.1}
        xF={f0} yF={f1} hline series={[{ data: opt133Model, color: RED }, { data: opt133Obs, color: BLUE, op: 0.85 }]}
        labels={opt133Labels} yLabel={relFlux} yLabelX={333} />
      <Panel id="d4" f={[345, 455, 301.7, 377.3]} xd={[5985, 7085]} yd={[0.5, 4.0]} xT={haXTicks} xm={50} yT={haYTicks} ym={0.1}
        xF={f0} yF={f1} hline series={[{ data: ha133Model, color: RED }]}
        labels={ha133Labels} yLabel={relFlux} yLabelX={328.5} xLabel={<>λ [Å]</>} xLabelY={391.5} />
      <Panel id="d5" f={[471.7, 595, 301.7, 377.3]} xd={[1944, 3390]} yd={[0.5, 5.0]} xT={uv2XTicks} xm={100} yT={uv2YTicks} ym={0.1}
        xF={f0} yF={f1} hline series={[{ data: uv2133Model, color: RED }, { data: uv2133Obs, color: BLUE, op: 0.85 }]}
        xLabel={<>λ [Å]</>} xLabelY={391.5} />
    </svg>
  );
}
